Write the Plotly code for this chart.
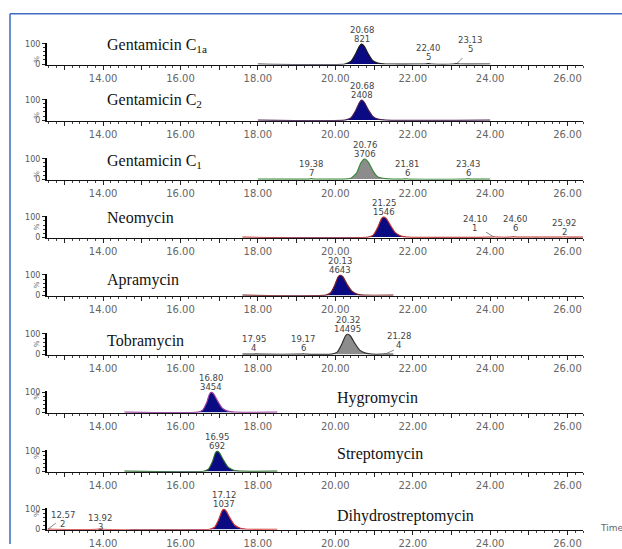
import plotly.graph_objects as go

W, H = 622, 549

# ---------------- data ----------------
panel_names = ["Gentamicin C<sub>1a</sub>", "Gentamicin C<sub>2</sub>", "Gentamicin C<sub>1</sub>",
               "Neomycin", "Apramycin", "Tobramycin", "Hygromycin", "Streptomycin",
               "Dihydrostreptomycin"]

t_c1a = [18.00, 20.25, 20.40, 20.52, 20.62, 20.68, 20.75, 20.85, 20.97, 21.10, 21.30, 22.32, 22.40, 22.48, 23.06, 23.13, 23.20, 24.00]
r_c1a = [0, 0, 12, 48, 88, 100, 88, 50, 16, 4, 0, 0, 1.5, 0, 0, 1.5, 0, 0]

t_c2 = [18.00, 20.25, 20.40, 20.52, 20.62, 20.68, 20.75, 20.85, 20.97, 21.10, 21.30, 24.00]
r_c2 = [0, 0, 10, 45, 86, 100, 88, 52, 18, 5, 0, 0]

t_c1 = [18.00, 19.30, 19.38, 19.46, 20.20, 20.40, 20.55, 20.66, 20.76, 20.86, 20.98, 21.10, 21.30, 21.50, 21.75, 21.81, 21.88, 23.36, 23.43, 23.50, 24.00]
r_c1 = [0, 0, 2, 0, 0, 4, 30, 80, 100, 82, 38, 10, 2, 0, 0, 1.5, 0, 0, 1.5, 0, 0]

t_neo = [17.60, 20.85, 20.98, 21.10, 21.19, 21.25, 21.32, 21.42, 21.55, 21.70, 21.85, 24.03, 24.10, 24.17, 24.53, 24.60, 24.67, 25.85, 25.92, 25.99, 26.40]
r_neo = [0, 0, 10, 50, 90, 100, 92, 60, 22, 5, 0, 0, 1, 0, 0, 1.5, 0, 0, 1, 0, 0]

t_apr = [17.60, 19.75, 19.88, 19.99, 20.07, 20.13, 20.20, 20.30, 20.43, 20.58, 20.75, 21.50]
r_apr = [0, 0, 12, 52, 90, 100, 90, 55, 20, 4, 0, 0]

t_tob = [17.60, 17.88, 17.95, 18.02, 19.10, 19.17, 19.24, 19.90, 20.05, 20.17, 20.26, 20.32, 20.39, 20.50, 20.63, 20.78, 20.95, 21.21, 21.28, 21.35, 21.50]
r_tob = [0, 0, 1, 0, 0, 1.5, 0, 0, 10, 50, 90, 100, 90, 55, 20, 5, 0, 0, 1, 0, 0]

t_hyg = [14.55, 16.45, 16.57, 16.68, 16.75, 16.80, 16.86, 16.96, 17.08, 17.22, 17.40, 18.50]
r_hyg = [0, 0, 10, 50, 90, 100, 90, 55, 20, 5, 0, 0]

t_str = [14.55, 16.60, 16.72, 16.83, 16.90, 16.95, 17.01, 17.11, 17.23, 17.37, 17.55, 18.50]
r_str = [0, 0, 10, 50, 90, 100, 90, 55, 20, 5, 0, 0]

t_dhs = [12.57, 12.62, 12.70, 13.85, 13.92, 13.99, 16.75, 16.88, 16.99, 17.07, 17.12, 17.18, 17.28, 17.40, 17.55, 17.72, 18.50]
r_dhs = [1, 0.5, 0, 0, 1.5, 0, 0, 10, 50, 90, 100, 90, 55, 20, 5, 0, 0]

rt_c1a, area_c1a = [20.68, 22.40, 23.13], [821, 5, 5]
rt_c2, area_c2 = [20.68], [2408]
rt_c1, area_c1 = [19.38, 20.76, 21.81, 23.43], [7, 3706, 6, 6]
rt_neo, area_neo = [21.25, 24.10, 24.60, 25.92], [1546, 1, 6, 2]
rt_apr, area_apr = [20.13], [4643]
rt_tob, area_tob = [17.95, 19.17, 20.32, 21.28], [4, 6, 14495, 4]
rt_hyg, area_hyg = [16.80], [3454]
rt_str, area_str = [16.95], [692]
rt_dhs, area_dhs = [12.57, 13.92, 17.12], [2, 3, 1037]

x_tick_vals = list(range(13, 27))
x_tick_text = [f"{v:.2f}" if v % 2 == 0 else "" for v in x_tick_vals]

# ---------------- styles ----------------
NAVY = "#0a0a82"
GREYF = "#8c8c8c"
line_cols = ["#1a1a1a", "#4a2050", "#3a8a3a", "#c0302a", "#7a2020", "#303030", "#a040a0", "#2a6a2a", "#d03030"]
fill_cols = [NAVY, NAVY, GREYF, NAVY, NAVY, GREYF, NAVY, NAVY, NAVY]
baseline_px = [61, 118, 178, 237, 296, 356, 415, 475, 534]
title_pos = [(105, -19), (105, -20), (105, -18), (105, -19), (105, -15), (105, -13),
             (335, -14), (335, -18), (335, -13)]
# small-peak label placement: (dx px, glyph bottom above baseline px, leader (dx, dy up) or None)
small_lab = {
    (0, 22.40): (0, 3, None), (0, 23.13): (14, 11, (6, 6)),
    (2, 19.38): (0, 2, None), (2, 21.81): (2, 2, None), (2, 23.43): (0, 2, None),
    (3, 24.10): (-19, 5, (-8, 5)), (3, 24.60): (2, 5, None), (3, 25.92): (0, 1, None),
    (5, 17.95): (-2, 2, None), (5, 19.17): (0, 2, None), (5, 21.28): (14, 5, (9, 4)),
    (8, 12.57): (15, 1, (8, 6)), (8, 13.92): (0, -2, None),
}

times = [t_c1a, t_c2, t_c1, t_neo, t_apr, t_tob, t_hyg, t_str, t_dhs]
resps = [r_c1a, r_c2, r_c1, r_neo, r_apr, r_tob, r_hyg, r_str, r_dhs]
rts = [rt_c1a, rt_c2, rt_c1, rt_neo, rt_apr, rt_tob, rt_hyg, rt_str, rt_dhs]
areas = [area_c1a, area_c2, area_c1, area_neo, area_apr, area_tob, area_hyg, area_str, area_dhs]

X0, X1 = 47, 583
XR = [12.55, 26.40]
K = 0.205  # px per % unit
YR = [-3, 103]

TICKF = dict(family="DejaVu Sans", size=10, color="#666666")
LABF = dict(family="DejaVu Sans", size=8.5, color="#444444")

fig = go.Figure()
layout = {}
annotations = []
shapes = []

for i in range(9):
    n = i + 1
    sfx = "" if n == 1 else str(n)
    xa, ya = "x" + sfx, "y" + sfx
    b = baseline_px[i]
    fig.add_trace(go.Scatter(
        x=times[i], y=resps[i], mode="lines",
        line=dict(color=line_cols[i], width=1.2, shape="spline", smoothing=0.5),
        fill="tozeroy", fillcolor=fill_cols[i],
        xaxis=xa, yaxis=ya, showlegend=False, hoverinfo="skip"))
    layout["xaxis" + sfx] = dict(
        domain=[X0 / W, X1 / W], range=XR, anchor=ya,
        tickmode="array", tickvals=x_tick_vals, ticktext=x_tick_text,
        ticks="outside", ticklen=4, tickwidth=1, tickcolor="#222",
        minor=dict(tickmode="linear", tick0=0, dtick=0.2, ticks="outside", ticklen=2, tickcolor="#444", showgrid=False),
        showline=True, linecolor="#111", linewidth=1.2,
        showgrid=False, zeroline=False, tickfont=TICKF, fixedrange=True)
    ybot = b - YR[0] * K
    ytop = b - YR[1] * K
    layout["yaxis" + sfx] = dict(
        domain=[1 - ybot / H, 1 - ytop / H], range=YR, anchor=xa,
        tickmode="array", tickvals=[0, 100], ticktext=["0", "100"],
        ticks="outside", ticklen=3, tickcolor="#222",
        minor=dict(tickmode="array", tickvals=[20, 40, 60, 80], ticks="outside", ticklen=2, tickcolor="#333"),
        showline=True, linecolor="#000", linewidth=2,
        showgrid=False, zeroline=False, tickfont=dict(family="DejaVu Sans", size=8, color="#555"),
        fixedrange=True)
    annotations.append(dict(xref="paper", yref="paper", x=31 / W, y=1 - (b - 10) / H, text="%",
                            textangle=-90, showarrow=False, font=dict(family="DejaVu Sans", size=7, color="#666")))
    tx, ty = title_pos[i]
    annotations.append(dict(xref="paper", yref="paper", x=tx / W, y=1 - (b + ty) / H, xanchor="left", yanchor="middle",
                            text=panel_names[i], showarrow=False,
                            font=dict(family="Liberation Serif", size=16, color="#111")))
    amax = max(areas[i])
    for rt, ar in zip(rts[i], areas[i]):
        if ar == amax:
            annotations.append(dict(xref=xa, yref=ya, x=rt, y=100, yanchor="bottom", yshift=-2,
                                    text=str(ar), showarrow=False, font=LABF))
            annotations.append(dict(xref=xa, yref=ya, x=rt, y=100, yanchor="bottom", yshift=7,
                                    text=f"{rt:.2f}", showarrow=False, font=LABF))
        else:
            dx, dy, lead = small_lab[(i, rt)]
            annotations.append(dict(xref=xa, yref=ya, x=rt, y=0, yanchor="bottom", xshift=dx, yshift=dy - 3,
                                    text=str(ar), showarrow=False, font=LABF))
            annotations.append(dict(xref=xa, yref=ya, x=rt, y=0, yanchor="bottom", xshift=dx, yshift=dy + 6,
                                    text=f"{rt:.2f}", showarrow=False, font=LABF))
            if lead:
                shapes.append(dict(type="line", xref=xa, yref=ya, xsizemode="pixel", ysizemode="pixel",
                                   xanchor=rt, yanchor=0, x0=0, y0=0, x1=lead[0], y1=lead[1],
                                   line=dict(color="#666", width=0.8)))

annotations.append(dict(xref="paper", yref="paper", x=598 / W, y=1 - 533 / H, xanchor="left", yanchor="middle",
                        text="Time", showarrow=False, font=dict(family="DejaVu Sans", size=9, color="#666")))

shapes += [
    dict(type="line", xref="paper", yref="paper", x0=10 / W, x1=1, y0=1 - 10 / H, y1=1 - 10 / H,
         line=dict(color="#3d6cc0", width=1.5)),
    dict(type="line", xref="paper", yref="paper", x0=10 / W, x1=10 / W, y0=1 - 10 / H, y1=0,
         line=dict(color="#3d6cc0", width=1.5)),
]

fig.update_layout(**layout)
fig.update_layout(width=W, height=H, margin=dict(l=0, r=0, t=0, b=0), autosize=False,
                  paper_bgcolor="white", plot_bgcolor="white",
                  annotations=annotations, shapes=shapes)

fig.write_html("out.html", config={"displayModeBar": False},
               post_script="document.body.style.margin='0';document.body.style.padding='0';")
